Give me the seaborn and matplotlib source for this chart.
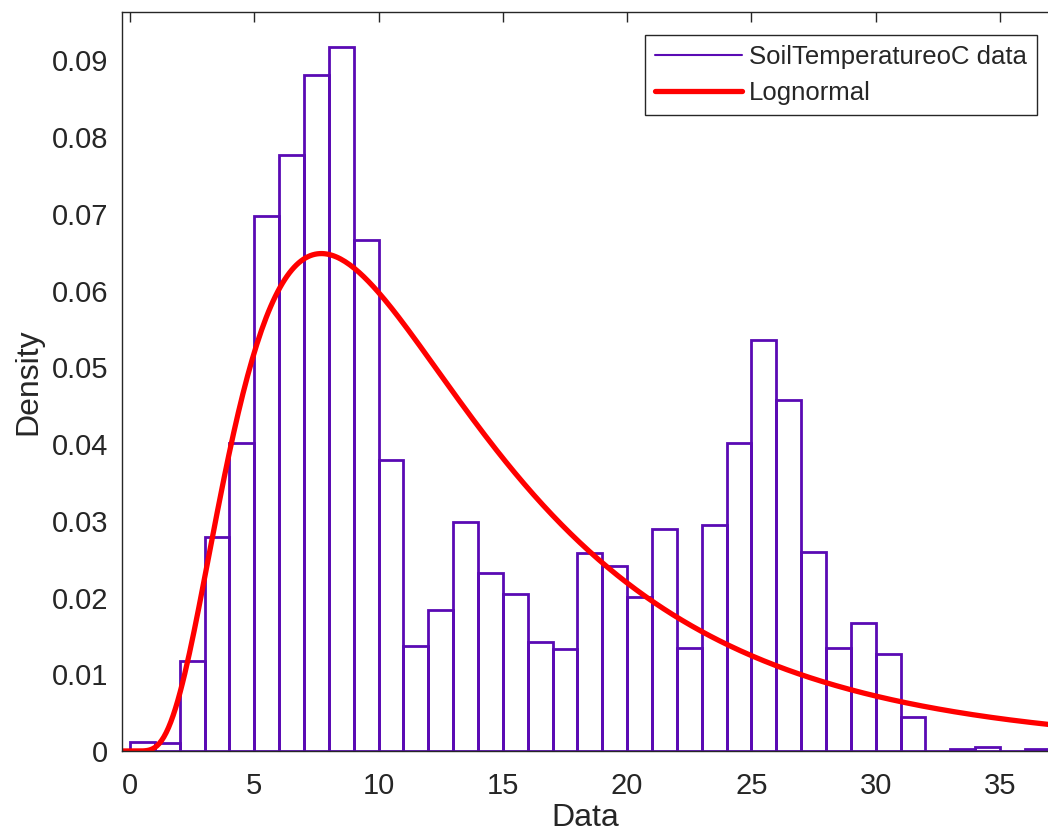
import numpy as np
import pandas as pd
import seaborn as sns
import matplotlib.pyplot as plt
from matplotlib.lines import Line2D

# histogram (density per 1 degree bin)
bin_edges = list(range(0, 38))
density = [0.0012, 0.0011, 0.0117, 0.0279, 0.0402, 0.0697, 0.0777, 0.0881, 0.0917, 0.0666,
           0.0379, 0.0137, 0.0184, 0.0298, 0.0232, 0.0205, 0.0142, 0.0133, 0.0258, 0.0241,
           0.0201, 0.0289, 0.0134, 0.0295, 0.0401, 0.0535, 0.0458, 0.0259, 0.0134, 0.0167,
           0.0126, 0.0044, 0.0000, 0.0002, 0.0005, 0.0000, 0.0002]

# fitted lognormal parameters
mu = 2.461
sigma = 0.648

hist_color = '#5a0ab4'
fit_color = '#ff0000'
ink = '#262626'

sns.set_style('white')
plt.rcParams['font.family'] = ['Liberation Sans', 'DejaVu Sans']

fig = plt.figure(figsize=(10.48, 8.35), dpi=100)
ax = fig.add_axes([122 / 1048, 1 - 751 / 835, 1 - 122 / 1048, (751 - 12) / 835])

centers = [e + 0.5 for e in bin_edges[:-1]]
df = pd.DataFrame({'x': centers, 'w': density})
sns.histplot(data=df, x='x', weights='w', bins=bin_edges, stat='count',
             fill=False, color=hist_color, linewidth=2, ax=ax)

xs = np.linspace(-0.32, 37, 400)
xp = np.clip(xs, 1e-9, None)
pdf = np.where(xs > 0, np.exp(-(np.log(xp) - mu) ** 2 / (2 * sigma ** 2)) / (xp * sigma * np.sqrt(2 * np.pi)), 0)
fit = pd.DataFrame({'x': xs, 'y': pdf})
sns.lineplot(data=fit, x='x', y='y', color=fit_color, linewidth=3.8, ax=ax)

ax.set_xlim(-0.32, 36.93)
ax.set_ylim(0, 0.0963)
ax.set_xticks(range(0, 40, 5))
ax.set_yticks(np.arange(0, 0.095, 0.01))
ax.set_yticklabels(['0'] + [f'{v:.2f}' for v in np.arange(0.01, 0.095, 0.01)])

ax.set_xlabel('Data', fontsize=23, color=ink, labelpad=2)
ax.set_ylabel('Density', fontsize=23, color=ink, labelpad=6)
ax.tick_params(axis='both', which='both', direction='in', length=7, width=1,
               top=True, right=False, labelsize=21, colors=ink)
ax.tick_params(axis='x', pad=15)
ax.tick_params(axis='y', pad=10)
for side in ['left', 'bottom', 'top']:
    ax.spines[side].set_color(ink)
    ax.spines[side].set_linewidth(1)
ax.spines['right'].set_visible(False)

handles = [Line2D([], [], color=hist_color, linewidth=1.5),
           Line2D([], [], color=fit_color, linewidth=3.8)]
leg = fig.legend(handles, ['SoilTemperatureoC data', 'Lognormal'],
                 loc='upper right', bbox_to_anchor=(1037 / 1048, 1 - 35 / 835),
                 borderaxespad=0, fontsize=18.5, handlelength=3.4, handletextpad=0.25,
                 labelspacing=0.45, borderpad=0.4, fancybox=False, framealpha=1)
leg.get_frame().set_edgecolor(ink)
leg.get_frame().set_linewidth(1)

fig.savefig('out.png', dpi=100)
